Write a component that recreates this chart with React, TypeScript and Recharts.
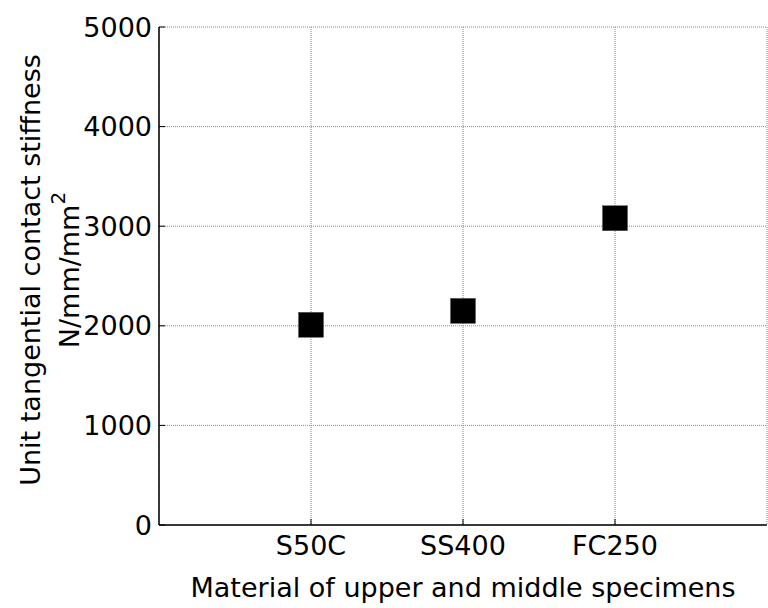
import React from "react";
import {
  ScatterChart,
  Scatter,
  XAxis,
  YAxis,
  CartesianGrid,
} from "recharts";

const materials = ["S50C", "SS400", "FC250"];
const stiffness = [2010, 2150, 3080];
const yTicks = [0, 1000, 2000, 3000, 4000, 5000];
const xTicks = [1, 2, 3];

const data = materials.map((name, i) => ({ x: i + 1, y: stiffness[i], name }));

const FONT = "'DejaVu Sans', Arial, sans-serif";
const FS = 27;

// two-line rotated y label, second line with superscript
const YLabel = () => (
  <g fontFamily={FONT} fill="#000" fontSize={FS}>
    <text transform="translate(40,270) rotate(-90)" textAnchor="middle">
      Unit tangential contact stiffness
    </text>
    <text transform="translate(79,270) rotate(-90)" textAnchor="middle">
      N/mm/mm
      <tspan dy={-14} fontSize={20}>2</tspan>
    </text>
  </g>
);

const SquareMarker = (props: any) => {
  const { cx, cy } = props;
  return <rect x={cx - 12.5} y={cy - 12.5} width={25} height={25} fill="#000" stroke="#555" strokeWidth={0.5} />;
};

export default function App() {
  return (
    <div style={{ position: "absolute", left: 0, top: 0, width: 768, height: 608, background: "#fff" }}>
      <ScatterChart width={768} height={608} margin={{ top: 27, right: 1, bottom: 0, left: 0 }}>
        <CartesianGrid stroke="#888" strokeDasharray="1 1" xAxisId="b" yAxisId="l" />
        <XAxis
          xAxisId="b"
          type="number"
          dataKey="x"
          domain={[0, 4]}
          ticks={xTicks}
          tickFormatter={(v) => materials[v - 1] ?? ""}
          height={83}
          tickSize={-6}
          tickMargin={17}
          axisLine={{ stroke: "#000", strokeWidth: 1.5 }}
          tickLine={{ stroke: "#000" }}
          tick={{ fill: "#000", fontSize: FS, fontFamily: FONT }}
          label={{
            value: "Material of upper and middle specimens",
            position: "insideBottom",
            offset: 11,
            fill: "#000",
            fontSize: FS,
            fontFamily: FONT,
          }}
        />
        <XAxis
          xAxisId="t"
          orientation="top"
          type="number"
          domain={[0, 4]}
          ticks={xTicks}
          height={0}
          tickSize={-6}
          tickFormatter={() => ""}
          axisLine={{ stroke: "#000", strokeWidth: 1.5 }}
          tickLine={{ stroke: "#000" }}
        />
        <YAxis
          yAxisId="l"
          type="number"
          dataKey="y"
          domain={[0, 5000]}
          ticks={yTicks}
          width={159}
          tickSize={-6}
          tickMargin={13}
          axisLine={{ stroke: "#000", strokeWidth: 1.5 }}
          tickLine={{ stroke: "#000" }}
          tick={{ fill: "#000", fontSize: FS, fontFamily: FONT }}
          label={<YLabel />}
        />
        <YAxis
          yAxisId="r"
          orientation="right"
          type="number"
          domain={[0, 5000]}
          ticks={yTicks}
          width={0}
          tickSize={-6}
          tickFormatter={() => ""}
          axisLine={{ stroke: "#000", strokeWidth: 1.5 }}
          tickLine={{ stroke: "#000" }}
        />
        <Scatter
          xAxisId="b"
          yAxisId="l"
          data={data}
          shape={SquareMarker}
          fill="#000"
          isAnimationActive={false}
        />
      </ScatterChart>
    </div>
  );
}
